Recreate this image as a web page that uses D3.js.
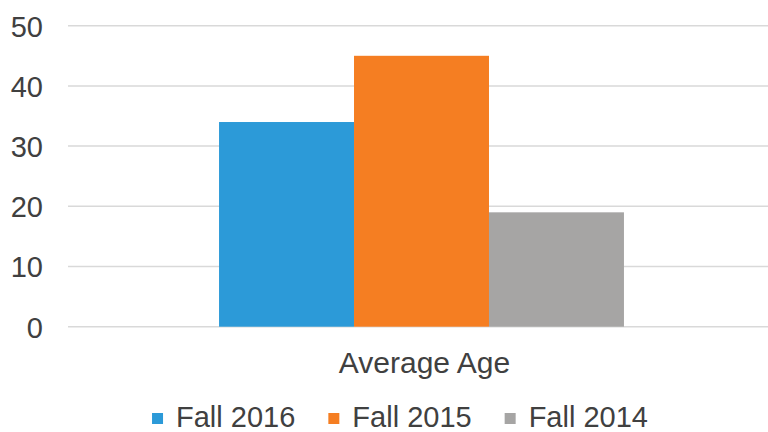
<!DOCTYPE html>
<html><head><meta charset="utf-8">
<script src="https://cdn.jsdelivr.net/npm/d3@7"></script>
<style>body{margin:0;background:#fff}svg{display:block}text{font-family:"Liberation Sans",Arial,sans-serif;fill:#404040}</style>
</head><body><svg id="c" width="768" height="432"></svg>
<script>
const categories = ["Average Age"];
const seriesNames = ["Fall 2016", "Fall 2015", "Fall 2014"];
const seriesValues = [34, 45, 19];
const seriesColors = ["#2C9AD8", "#F57E22", "#A6A5A4"];
const yTicks = [0, 10, 20, 30, 40, 50];

(function () {
const svg = d3.select("#c");
const plotLeft = 68, plotRight = 775, plotTop = 25.7, plotBottom = 326.7;
const x0 = d3.scaleBand().domain(categories).range([plotLeft, plotRight]).paddingInner(0).paddingOuter(0.373);
const x1 = d3.scaleBand().domain(seriesNames).range([0, x0.bandwidth()]).padding(0);
const y = d3.scaleLinear().domain([0, 50]).range([plotBottom, plotTop]);

// gridlines
svg.append("g").selectAll("line").data(yTicks).join("line")
  .attr("x1", plotLeft).attr("x2", 768)
  .attr("y1", d => y(d)).attr("y2", d => y(d))
  .attr("stroke", "#D9D9D9").attr("stroke-width", 1.5);

// y axis labels
const yAxis = d3.axisLeft(y).tickValues(yTicks).tickSize(0).tickPadding(0);
const ga = svg.append("g").attr("transform", "translate(43,0)").call(yAxis);
ga.select(".domain").remove();
ga.selectAll("text").attr("font-size", 29).attr("font-family", '"Liberation Sans",Arial,sans-serif').attr("fill", "#404040").attr("dy", "0.36em");

// bars
const g = svg.append("g").attr("transform", `translate(${x0(categories[0])},0)`);
g.selectAll("rect").data(seriesNames.map((s, i) => ({s, v: seriesValues[i], c: seriesColors[i]}))).join("rect")
  .attr("x", d => x1(d.s)).attr("width", x1.bandwidth())
  .attr("y", d => y(d.v)).attr("height", d => y(0) - y(d.v))
  .attr("fill", d => d.c);

// category label
svg.append("text").attr("x", x0(categories[0]) + x0.bandwidth() / 2 + 3).attr("y", 373)
  .attr("text-anchor", "middle").attr("font-size", 30).text(categories[0]);

// legend
const lg = svg.append("g");
let cx = 0;
seriesNames.forEach((s, i) => {
  const it = lg.append("g");
  it.append("rect").attr("x", 0).attr("y", 413).attr("width", 11).attr("height", 11).attr("fill", seriesColors[i]);
  const t = it.append("text").attr("x", 24).attr("y", 427).attr("font-size", 29).text(s);
  const w = 24 + t.node().getComputedTextLength();
  it.attr("transform", `translate(${cx},0)`);
  cx += w + 33;
});
const total = cx - 33;
lg.attr("transform", `translate(${400 - total / 2},0)`);
})();
</script></body></html>
